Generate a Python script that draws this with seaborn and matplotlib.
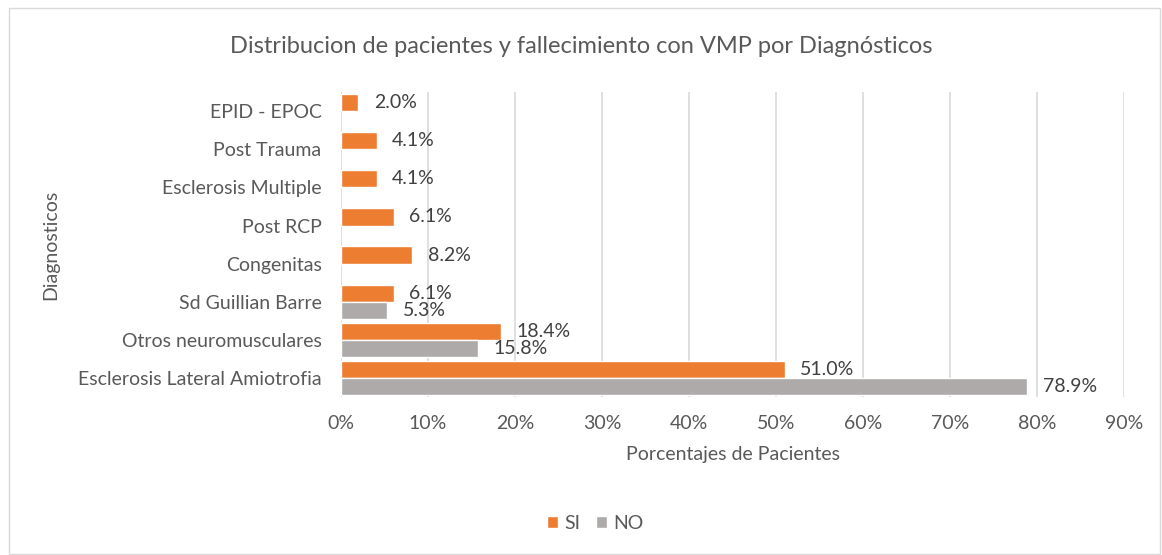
import numpy as np
import pandas as pd
import matplotlib
matplotlib.use("Agg")
import matplotlib.pyplot as plt
import seaborn as sns
from matplotlib.patches import Rectangle, Patch

categories = ["EPID - EPOC", "Post Trauma", "Esclerosis Multiple", "Post RCP",
              "Congenitas", "Sd Guillian Barre", "Otros neuromusculares",
              "Esclerosis Lateral Amiotrofia"]
si_values = [2.0, 4.1, 4.1, 6.1, 8.2, 6.1, 18.4, 51.0]
no_values = [np.nan, np.nan, np.nan, np.nan, np.nan, 5.3, 15.8, 78.9]
series = ["SI", "NO"]
x_ticks = [0, 10, 20, 30, 40, 50, 60, 70, 80, 90]

df = pd.DataFrame({
    "Diagnostico": categories * 2,
    "Serie": ["SI"] * len(categories) + ["NO"] * len(categories),
    "Valor": si_values + no_values,
})

sns.set_theme(style="white")
plt.rcParams["font.family"] = ["Lato", "DejaVu Sans"]
text_color = "#595959"

fig = plt.figure(figsize=(11.62, 5.55), dpi=100)
ax = fig.add_axes([0.2935, 0.2847, 0.9673 - 0.2935, 0.834 - 0.2847])

palette = {"SI": "#ED7D31", "NO": "#AEAAAA"}
sns.barplot(data=df, y="Diagnostico", x="Valor", hue="Serie", hue_order=series,
            order=categories, palette=palette, orient="h", width=0.9,
            saturation=1, ax=ax, legend=False)

for cont in ax.containers:
    for p in cont.patches:
        w = p.get_width()
        if w is None or np.isnan(w) or w <= 0:
            continue
        yc = p.get_y() + p.get_height() / 2
        ax.annotate(f"{w:.1f}%", (w, yc), xytext=(11, 0), textcoords="offset points",
                    ha="left", va="center", fontsize=14, color="#404040")

ax.set_xlim(0, 90)
ax.set_xticks(x_ticks)
ax.set_xticklabels([f"{t}%" for t in x_ticks])
ax.xaxis.grid(True, color="#D9D9D9", linewidth=1.2)
ax.set_axisbelow(True)
for s in ax.spines.values():
    s.set_visible(False)
ax.tick_params(axis="both", length=0, labelsize=14, labelcolor=text_color)
ax.tick_params(axis="x", pad=13)
ax.tick_params(axis="y", pad=14)
ax.set_xlabel("Porcentajes de Pacientes", fontsize=14, color=text_color, labelpad=10)
ax.set_ylabel("Diagnosticos", fontsize=14, color=text_color, labelpad=0)
ax.yaxis.set_label_coords(-0.36, 0.5)

fig.text(0.5, 0.917, "Distribucion de pacientes y fallecimiento con VMP por Diagnósticos",
         ha="center", va="center", fontsize=17, color=text_color)

handles = [Patch(facecolor=palette[s], label=s) for s in series]
fig.legend(handles=handles, loc="center", bbox_to_anchor=(0.512, 0.057), ncol=2,
           frameon=False, fontsize=14, handlelength=0.6, handleheight=0.6,
           handletextpad=0.3, columnspacing=0.8, labelcolor=text_color)

fig.patches.append(Rectangle((9 / 1162, 0.001), 1151 / 1162, 1 - 8 / 555 - 0.001,
                             transform=fig.transFigure, fill=False,
                             edgecolor="#D9D9D9", linewidth=1))

fig.savefig("out.png", dpi=100)
